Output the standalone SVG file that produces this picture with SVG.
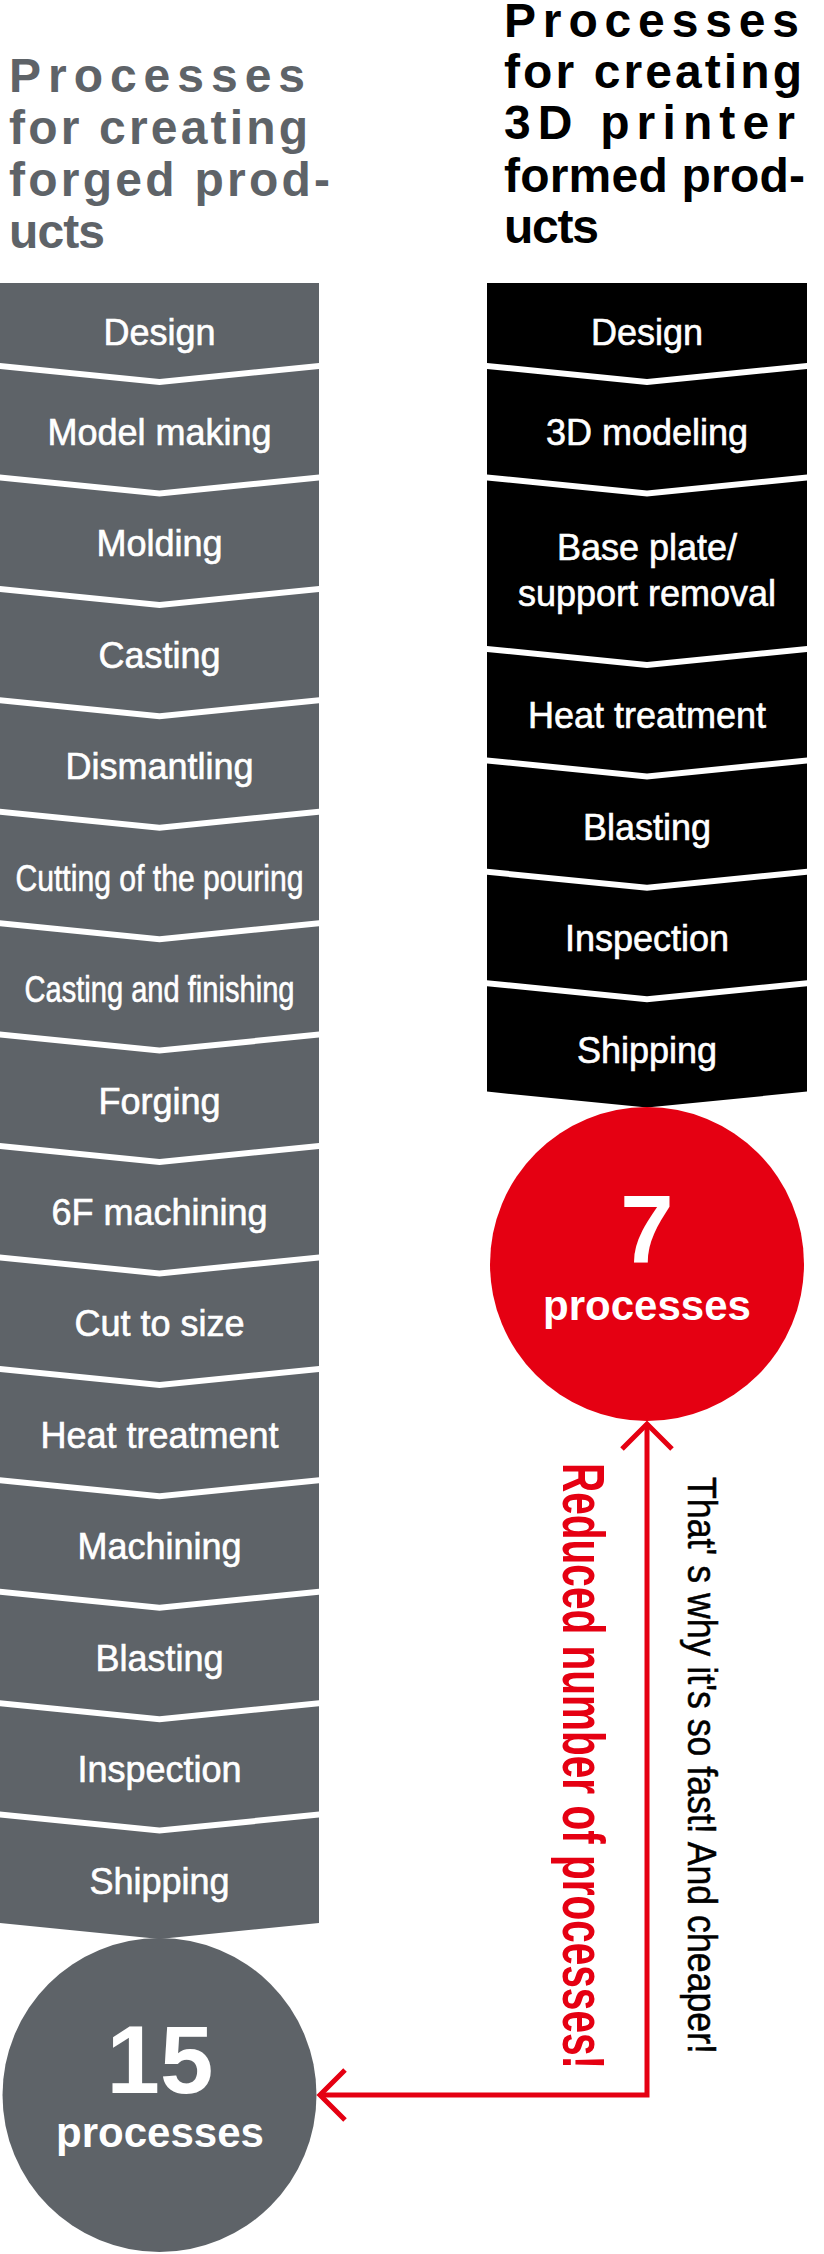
<svg xmlns="http://www.w3.org/2000/svg" width="824" height="2254" viewBox="0 0 824 2254">
<style>
.title{font-family:"Liberation Sans",Arial,sans-serif;font-weight:bold;font-size:48px}
.tg{fill:#5e6368}
.tb{fill:#000}
.gbox{fill:#5e6368}
.bbox{fill:#000}
.lbl{font-family:"Liberation Sans",Arial,sans-serif;font-size:36px;fill:#fff;stroke:#fff;stroke-width:0.6;text-anchor:middle}
.num{font-family:"Liberation Sans",Arial,sans-serif;font-weight:bold;fill:#fff;text-anchor:middle}
.red{font-family:"Liberation Sans",Arial,sans-serif;font-weight:bold;font-size:60px;fill:#e50012}
.note{font-family:"Liberation Sans",Arial,sans-serif;font-size:40px;fill:#000;stroke:#000;stroke-width:0.5}
</style>
<defs>
<marker id="arr" markerUnits="userSpaceOnUse" orient="auto-start-reverse" refX="0" refY="0" markerWidth="60" markerHeight="60" viewBox="-30 -30 60 60" overflow="visible">
<path d="M-25,-25 L0,0 L-25,25" fill="none" stroke="#e50012" stroke-width="5"/>
</marker>
</defs>

<g id="title-left" class="title tg">
<text x="9" y="92" textLength="296" lengthAdjust="spacing">Processes</text>
<text x="9" y="144" textLength="299" lengthAdjust="spacing">for creating</text>
<text x="9" y="196" textLength="321" lengthAdjust="spacing">forged prod-</text>
<text x="9" y="248" textLength="96" lengthAdjust="spacing">ucts</text>
</g>
<g id="title-right" class="title tb">
<text x="504" y="37" textLength="295" lengthAdjust="spacing">Processes</text>
<text x="504" y="88" textLength="298" lengthAdjust="spacing">for creating</text>
<text x="504" y="139" textLength="291" lengthAdjust="spacing">3D printer</text>
<text x="504" y="192" textLength="301" lengthAdjust="spacing">formed prod-</text>
<text x="504" y="243" textLength="95" lengthAdjust="spacing">ucts</text>
</g>

<g id="left-steps">
<g id="l1"><path class="gbox" d="M0,283 L319,283 L319,363 L159.5,379 L0,363 Z"/><text class="lbl" x="159.5" y="345">Design</text></g>
<g id="l2"><path class="gbox" d="M0,369 L159.5,385 L319,369 L319,474.4 L159.5,490.4 L0,474.4 Z"/><text class="lbl" x="159.5" y="445">Model making</text></g>
<g id="l3"><path class="gbox" d="M0,480.4 L159.5,496.4 L319,480.4 L319,585.9 L159.5,601.9 L0,585.9 Z"/><text class="lbl" x="159.5" y="556.4">Molding</text></g>
<g id="l4"><path class="gbox" d="M0,591.9 L159.5,607.9 L319,591.9 L319,697.3 L159.5,713.3 L0,697.3 Z"/><text class="lbl" x="159.5" y="667.9">Casting</text></g>
<g id="l5"><path class="gbox" d="M0,703.3 L159.5,719.3 L319,703.3 L319,808.7 L159.5,824.7 L0,808.7 Z"/><text class="lbl" x="159.5" y="779.3">Dismantling</text></g>
<g id="l6"><path class="gbox" d="M0,814.7 L159.5,830.7 L319,814.7 L319,920.2 L159.5,936.2 L0,920.2 Z"/><text class="lbl" x="159.5" y="890.7" textLength="288" lengthAdjust="spacingAndGlyphs">Cutting of the pouring</text></g>
<g id="l7"><path class="gbox" d="M0,926.2 L159.5,942.2 L319,926.2 L319,1031.6 L159.5,1047.6 L0,1031.6 Z"/><text class="lbl" x="159.5" y="1002.2" textLength="270" lengthAdjust="spacingAndGlyphs">Casting and finishing</text></g>
<g id="l8"><path class="gbox" d="M0,1037.6 L159.5,1053.6 L319,1037.6 L319,1143 L159.5,1159 L0,1143 Z"/><text class="lbl" x="159.5" y="1113.6">Forging</text></g>
<g id="l9"><path class="gbox" d="M0,1149 L159.5,1165 L319,1149 L319,1254.4 L159.5,1270.4 L0,1254.4 Z"/><text class="lbl" x="159.5" y="1225">6F machining</text></g>
<g id="l10"><path class="gbox" d="M0,1260.4 L159.5,1276.4 L319,1260.4 L319,1365.9 L159.5,1381.9 L0,1365.9 Z"/><text class="lbl" x="159.5" y="1336.4">Cut to size</text></g>
<g id="l11"><path class="gbox" d="M0,1371.9 L159.5,1387.9 L319,1371.9 L319,1477.3 L159.5,1493.3 L0,1477.3 Z"/><text class="lbl" x="159.5" y="1447.9">Heat treatment</text></g>
<g id="l12"><path class="gbox" d="M0,1483.3 L159.5,1499.3 L319,1483.3 L319,1588.7 L159.5,1604.7 L0,1588.7 Z"/><text class="lbl" x="159.5" y="1559.3">Machining</text></g>
<g id="l13"><path class="gbox" d="M0,1594.7 L159.5,1610.7 L319,1594.7 L319,1700.2 L159.5,1716.2 L0,1700.2 Z"/><text class="lbl" x="159.5" y="1670.7">Blasting</text></g>
<g id="l14"><path class="gbox" d="M0,1706.2 L159.5,1722.2 L319,1706.2 L319,1811.6 L159.5,1827.6 L0,1811.6 Z"/><text class="lbl" x="159.5" y="1782.2">Inspection</text></g>
<g id="l15"><path class="gbox" d="M0,1817.6 L159.5,1833.6 L319,1817.6 L319,1923 L159.5,1939 L0,1923 Z"/><text class="lbl" x="159.5" y="1893.6">Shipping</text></g>
</g>

<g id="right-steps">
<g id="r1"><path class="bbox" d="M487,283 L807,283 L807,363 L647,379 L487,363 Z"/><text class="lbl" x="647" y="345">Design</text></g>
<g id="r2"><path class="bbox" d="M487,369 L647,385 L807,369 L807,474.4 L647,490.4 L487,474.4 Z"/><text class="lbl" x="647" y="445">3D modeling</text></g>
<g id="r3"><path class="bbox" d="M487,480.4 L647,496.4 L807,480.4 L807,646 L647,662 L487,646 Z"/><text class="lbl" x="647" y="560">Base plate/</text><text class="lbl" x="647" y="606">support removal</text></g>
<g id="r4"><path class="bbox" d="M487,652 L647,668 L807,652 L807,757.4 L647,773.4 L487,757.4 Z"/><text class="lbl" x="647" y="728">Heat treatment</text></g>
<g id="r5"><path class="bbox" d="M487,763.4 L647,779.4 L807,763.4 L807,868.8 L647,884.8 L487,868.8 Z"/><text class="lbl" x="647" y="839.5">Blasting</text></g>
<g id="r6"><path class="bbox" d="M487,874.8 L647,890.8 L807,874.8 L807,980.2 L647,996.2 L487,980.2 Z"/><text class="lbl" x="647" y="951">Inspection</text></g>
<g id="r7"><path class="bbox" d="M487,986.2 L647,1002.2 L807,986.2 L807,1091.6 L647,1107.6 L487,1091.6 Z"/><text class="lbl" x="647" y="1062.5">Shipping</text></g>
</g>

<g id="circle-7">
<circle cx="647" cy="1264" r="157" fill="#e50012"/>
<text class="num" x="647" y="1263" font-size="96">7</text>
<text class="num" x="647" y="1320" font-size="42">processes</text>
</g>
<g id="circle-15">
<circle cx="159.5" cy="2095" r="157" fill="#5e6368"/>
<text class="num" x="160" y="2093" font-size="96">15</text>
<text class="num" x="160" y="2147" font-size="42">processes</text>
</g>

<g id="connectors">
<path d="M647,1424 L647,2095 L320,2095" fill="none" stroke="#e50012" stroke-width="5" marker-start="url(#arr)" marker-end="url(#arr)"/>
</g>

<g id="labels">
<text class="red" transform="translate(563,1463) rotate(90)" x="0" y="0" textLength="606" lengthAdjust="spacingAndGlyphs">Reduced number of processes!</text>
<text class="note" transform="translate(688,1477) rotate(90)" x="0" y="0" textLength="577" lengthAdjust="spacingAndGlyphs">That' s why it's so fast! And cheaper!</text>
</g>
</svg>
